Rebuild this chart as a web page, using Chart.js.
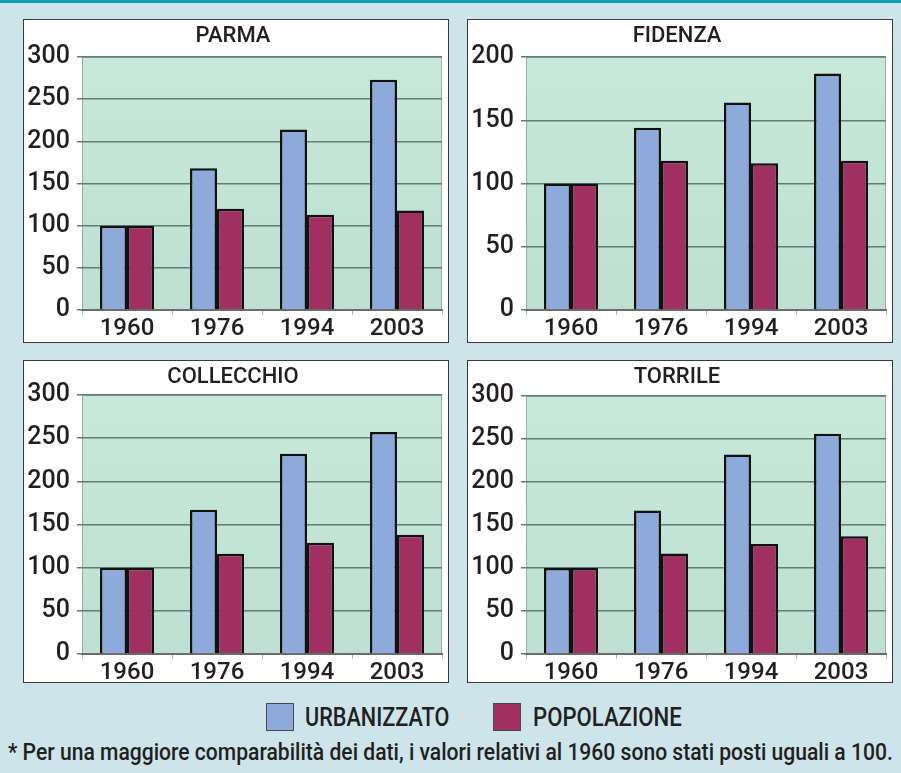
<!DOCTYPE html>
<html lang="it">
<head>
<meta charset="utf-8">
<title>Urbanizzato e popolazione</title>
<script src="https://cdn.jsdelivr.net/npm/chart.js@4.4.0/dist/chart.umd.min.js"></script>
<style>
  html, body { margin: 0; padding: 0; }
  body {
    width: 901px; height: 773px; overflow: hidden; position: relative;
    background: #cde4ea; font-family: Roboto, sans-serif; color: #231f20;
  }
  .barra { position: absolute; left: 0; top: 0; width: 901px; height: 3px; background: #0a9fb3; }
  .pannello {
    position: absolute; box-sizing: border-box; width: 426px;
    background: #fff; border: 1px solid #3a3a3a;
  }
  .pannello .box { position: relative; width: 424px; height: 100%; }
  .legenda-box { position: absolute; width: 28px; height: 28px; box-sizing: border-box; border: 1px solid #4a4a4a; }
  .testo { position: absolute; white-space: nowrap; transform-origin: 0 0; line-height: 1; }
</style>
</head>
<body>
<div class="barra"></div>

<div class="pannello" style="left:23px; top:19px; height:324px;"><div class="box"><canvas id="chartParma"></canvas></div></div>
<div class="pannello" style="left:467px; top:19px; height:324px;"><div class="box"><canvas id="chartFidenza"></canvas></div></div>
<div class="pannello" style="left:23px; top:360px; height:323px;"><div class="box"><canvas id="chartCollecchio"></canvas></div></div>
<div class="pannello" style="left:467px; top:360px; height:323px;"><div class="box"><canvas id="chartTorrile"></canvas></div></div>

<div class="legenda-box" style="left:266px; top:703px; background:#8eaadb;"></div>
<div class="testo" id="legUrb" style="left:305px; top:704px; font-size:26px; font-weight:500;">URBANIZZATO</div>
<div class="legenda-box" style="left:493px; top:703px; background:#a03062;"></div>
<div class="testo" id="legPop" style="left:533px; top:704px; font-size:26px; font-weight:500;">POPOLAZIONE</div>

<div class="testo" id="nota" style="left:8px; top:741px; font-size:23px; font-weight:500;">* Per una maggiore comparabilità dei dati, i valori relativi al 1960 sono stati posti uguali a 100.</div>

<script>
// --- DATI (indice 1960 = 100) ---
const anni = ['1960', '1976', '1994', '2003'];
const serie = ['URBANIZZATO', 'POPOLAZIONE'];

const parmaUrb = [100, 168, 214, 273];
const parmaPop = [100, 120, 113, 118];

const fidenzaUrb = [100, 144, 164, 187];
const fidenzaPop = [100, 118, 116, 118];

const collecchioUrb = [100, 167, 232, 257];
const collecchioPop = [100, 116, 129, 138];

const torrileUrb = [100, 167, 232, 256];
const torrilePop = [100, 117, 128, 137];

const massimi = { parma: 300, fidenza: 200, collecchio: 300, torrile: 300 };
const passo = 50;

// sfondo verde dell'area del grafico
const sfondoArea = {
    id: 'sfondoArea',
    beforeDraw(chart) {
        const { ctx, chartArea: a } = chart;
        const g = ctx.createLinearGradient(0, a.top, 0, a.bottom);
        g.addColorStop(0, '#c8e8d9');
        g.addColorStop(1, '#bde0d2');
        ctx.save();
        ctx.fillStyle = g;
        ctx.fillRect(a.left, a.top, a.width, a.height);
        ctx.strokeStyle = '#9aaba5';
        ctx.lineWidth = 1;
        ctx.strokeRect(a.left + 0.5, a.top + 0.5, a.width - 1, a.height - 1);
        ctx.restore();
    }
};

function creaGrafico(canvasId, titolo, urb, pop, max, sopra, sotto) {
    const ctx = document.getElementById(canvasId).getContext('2d');
    return new Chart(ctx, {
        type: 'bar',
        data: {
            labels: anni,
            datasets: [{
                label: serie[0],
                data: urb,
                backgroundColor: '#8eaadb',
                borderColor: '#111',
                borderWidth: 2.5
            }, {
                label: serie[1],
                data: pop,
                backgroundColor: '#a03062',
                borderColor: '#111',
                borderWidth: 2.5
            }]
        },
        options: {
            responsive: true,
            maintainAspectRatio: false,
            animation: false,
            categoryPercentage: 0.6,
            barPercentage: 1.0,
            layout: { padding: { left: 0, right: 6, top: 0, bottom: 0 } },
            plugins: {
                legend: { display: false },
                tooltip: { enabled: false },
                title: {
                    display: true,
                    text: titolo,
                    color: '#231f20',
                    font: { family: 'Roboto', size: 22, weight: '500', lineHeight: 1.2 },
                    padding: { top: 3, bottom: sopra - 3 - 26.4 }
                }
            },
            scales: {
                x: {
                    grid: { display: true, drawOnChartArea: false, drawTicks: true, tickLength: 5, color: '#b0b8b4', offset: true },
                    border: { display: true, color: '#6b6b6b', width: 2 },
                    ticks: { color: '#231f20', padding: 2, font: { family: 'Roboto', size: 24, weight: '500', lineHeight: 1 } },
                    afterFit: s => { s.height = sotto; }
                },
                y: {
                    min: 0, max: max,
                    ticks: { stepSize: passo, color: '#231f20', padding: 7, font: { family: 'Roboto', size: 25, weight: '500', lineHeight: 1 } },
                    grid: { color: '#5f7d72', lineWidth: 1.5, tickLength: 5 },
                    border: { display: false },
                    afterFit: s => { s.width = 58; }
                }
            }
        },
        plugins: [sfondoArea]
    });
}

creaGrafico('chartParma', 'PARMA', parmaUrb, parmaPop, massimi.parma, 37, 32);
creaGrafico('chartFidenza', 'FIDENZA', fidenzaUrb, fidenzaPop, massimi.fidenza, 37, 32);
creaGrafico('chartCollecchio', 'COLLECCHIO', collecchioUrb, collecchioPop, massimi.collecchio, 34, 28);
creaGrafico('chartTorrile', 'TORRILE', torrileUrb, torrilePop, massimi.torrile, 35, 28);

// adatta i testi condensati alla larghezza dell'originale
function adatta(id, larghezza) {
    const el = document.getElementById(id);
    el.style.transform = 'scaleX(' + (larghezza / el.offsetWidth) + ')';
}
adatta('legUrb', 144);
adatta('legPop', 149);
adatta('nota', 885);
</script>
</body>
</html>
